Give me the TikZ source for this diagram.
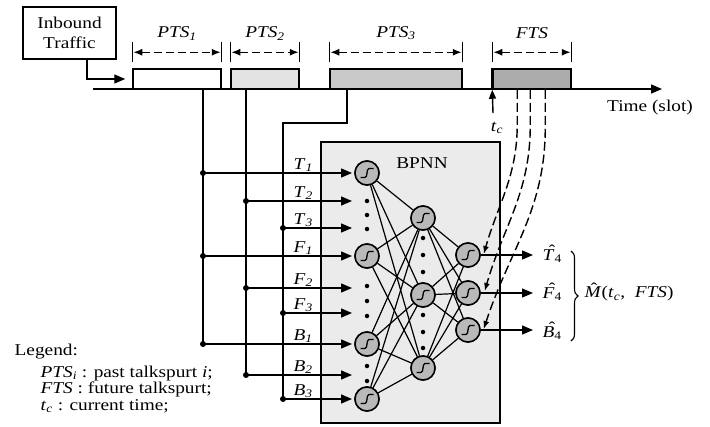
\documentclass[tikz,border=0pt]{standalone}
\usepackage{fontspec}
\setmainfont{Liberation Serif}[FakeStretch=1.17]
\usetikzlibrary{arrows.meta,decorations.pathreplacing,calc}
\newcommand{\iv}[2]{\textit{#1}\textsubscript{\textit{#2}}}
\newcommand{\hv}[2]{\ooalign{\textit{#1}\cr\hidewidth\kern7pt\raisebox{0.5ex}{\symbol{"02C6}}\hidewidth\cr}\textsubscript{#2}}
\newcommand{\Mhat}{\ooalign{\textit{M}\cr\hidewidth\kern2pt\raisebox{0.45ex}{\symbol{"02C6}}\hidewidth\cr}}
\tikzset{
  neuron/.style={circle,draw,line width=1.5pt,fill=gray!55,minimum size=24pt,inner sep=0pt,
    path picture={\draw[line width=1.3pt]
      ($(path picture bounding box.center)+(-6.5pt,-4.5pt)$) -- ($(path picture bounding box.center)+(-2pt,-4.5pt)$)
      .. controls ($(path picture bounding box.center)+(1pt,-4.5pt)$) and ($(path picture bounding box.center)+(-1pt,4.5pt)$) ..
      ($(path picture bounding box.center)+(2pt,4.5pt)$) -- ($(path picture bounding box.center)+(6.5pt,4.5pt)$);}},
  ldot/.style={circle,fill,inner sep=0pt,minimum size=4.5pt},
  jdot/.style={circle,fill,inner sep=0pt,minimum size=6pt},
  arr/.style={-{Triangle[length=11pt,width=9pt]}},
  dimarr/.style={dash pattern=on 8pt off 4pt,{Latex[length=9pt,width=7pt]}-{Latex[length=9pt,width=7pt]}},
  slot/.style={draw,line width=1.5pt,minimum height=20pt,inner sep=0pt},
  lab/.style={inner sep=0pt},
  fdash/.style={dash pattern=on 9pt off 4pt,line width=1.4pt,-{Latex[length=8pt,width=6pt]}}
}
\begin{document}
\begin{tikzpicture}[x=1pt,y=-1pt,line width=1.4pt,font=\fontsize{16.5}{20}\selectfont]
\useasboundingbox (0,0) rectangle (710,426);

% inbound traffic
\node[draw,line width=1.5pt,minimum width=93pt,minimum height=52pt,align=center,inner sep=0pt] (inb) at (69.5,33) {Inbound\\Traffic};

% slots on the time line
\node[slot,minimum width=88pt] (p1) at (177,79) {};
\node[slot,minimum width=68pt,fill=gray!22] (p2) at (265,79) {};
\node[slot,minimum width=132pt,fill=gray!42] (p3) at (396,79) {};
\node[slot,minimum width=78pt,fill=gray!65] (fs) at (532,79) {};
\draw[line width=2.4pt] (fs.south west) -- (fs.north west);

\coordinate (ts) at (93,89);
\coordinate (te) at (662,89);
\draw[arr] (ts) -- (te);
\draw[arr] ($(inb.south)+(17.5,0)$) |- ($(p1.west)+(-7,0)$);

\node[lab] at (650,108) {Time (slot)};

% dimension lines
\foreach \b/\t in {p1/{\iv{PTS}{1}},p2/{\iv{PTS}{2}},p3/{\iv{PTS}{3}},fs/{\textit{FTS}}}{
  \draw ($(\b.north west)+(0,-26)$) -- ($(\b.north west)+(0,-6)$);
  \draw ($(\b.north east)+(0,-26)$) -- ($(\b.north east)+(0,-6)$);
  \draw[dimarr] ($(\b.north west)+(1,-16)$) -- ($(\b.north east)+(-1,-16)$);
  \node[lab] at ($(\b.north)+(0,-35)$) {\t};
}

% BPNN box
\node[draw,line width=1.5pt,fill=gray!16,minimum width=179pt,minimum height=281pt,inner sep=0pt] (bp) at (410.5,282.5) {};
\node[lab] at (422,163) {BPNN};

% signal lines from past talkspurts
\coordinate (s1) at (203,89);
\coordinate (s2) at (246,89);
\coordinate (s3) at (347,89);
\coordinate (k3) at (347,123);
\coordinate (k4) at (283,123);

\foreach \n/\x/\y in {T1/203/173,T2/246/201,T3/283/228,F1/203/256,F2/246/288,F3/283/313,B1/203/344,B2/246/375,B3/283/399}{
  \node[jdot] (j\n) at (\x,\y) {};
  \coordinate (e\n) at (352,\y);
}
\draw (s1) -- (jB1.center);
\draw (s2) -- (jB2.center);
\draw (s3) -- (k3) -- (k4) -- (jB3.center);

\foreach \n/\a/\b in {T1/T/1,T2/T/2,T3/T/3,F1/F/1,F2/F/2,F3/F/3,B1/B/1,B2/B/2,B3/B/3}{
  \draw[arr] (j\n.center) -- (e\n);
  \node[lab,anchor=base west] at ($(j\n -| 293,0)+(0,-4)$) {\iv{\a}{\b}};
}

% neurons
\node[neuron] (iT) at (367,173) {};
\node[neuron] (iF) at (367,256) {};
\node[neuron] (iB) at (367,344) {};
\node[neuron] (iZ) at (367,399) {};
\node[neuron] (h1) at (423,218) {};
\node[neuron] (h2) at (423,295) {};
\node[neuron] (h3) at (423,368) {};
\node[neuron] (o1) at (468,255) {};
\node[neuron] (o2) at (468,293) {};
\node[neuron] (o3) at (468,330) {};

\foreach \i in {iT,iF,iB,iZ}{
  \foreach \h in {h1,h2,h3}{
    \draw[line width=1.2pt] (\i) -- (\h);
  }
}
\foreach \h in {h1,h2,h3}{
  \foreach \o in {o1,o2,o3}{
    \draw[line width=1.2pt] (\h) -- (\o);
  }
}
% redraw neurons on top of the links
\foreach \x/\y in {367/173,367/256,367/344,367/399,423/218,423/295,423/368,468/255,468/293,468/330}{
  \node[neuron] at (\x,\y) {};
}

% layer dots
\foreach \y in {201,215,229,286,301,316,366,381}{ \node[ldot] (dI\y) at (367,\y) {}; }
\foreach \y in {238,255,272,315,332,348}{ \node[ldot] (dH\y) at (423,\y) {}; }

% outputs
\coordinate (q1) at (533,255);
\coordinate (q2) at (533,293);
\coordinate (q3) at (533,330);
\draw[arr] (o1.east) -- (q1);
\draw[arr] (o2.east) -- (q2);
\draw[arr] (o3.east) -- (q3);
\node[lab,anchor=west] at (542,256) {\hv{T}{4}};
\node[lab,anchor=west] at (542,294) {\hv{F}{4}};
\node[lab,anchor=west] at (542,333) {\hv{B}{4}};

\coordinate (br1) at (571,251);
\coordinate (br2) at (571,341);
\draw[line width=1.1pt,decorate,decoration={brace,amplitude=7pt}] (br1) -- (br2);
\node[lab,anchor=west] at (584,294) {\Mhat(\textit{t}\textsubscript{\textit{c}},\ \ \textit{FTS})};

% future talkspurt feedback (dashed)
\coordinate (d1) at ($(fs.south west)+(25,0)$);
\coordinate (d2) at ($(fs.south west)+(38,0)$);
\coordinate (d3) at ($(fs.south west)+(53,0)$);
\draw[fdash] (d1) -- ++(0,34) to[out=-90,in=74] ($(o1.east)+(3,-1)$);
\draw[fdash] (d2) -- ++(0,36) to[out=-90,in=74] ($(o2.east)+(4,-2)$);
\draw[fdash] (d3) -- ++(0,38) to[out=-90,in=72] ($(o3.east)+(3,-1)$);

% current time
\coordinate (tc) at (493,113);
\draw[-{Triangle[length=9pt,width=7pt]}] (tc) -- (fs.south west);
\node[lab] at (497,128) {\iv{t}{c}};

% legend
\node[lab,anchor=base west] at (14,355) {Legend:};
\node[lab,anchor=base west] at (40,377) {\iv{PTS}{i} : past talkspurt \textit{i};};
\node[lab,anchor=base west] at (40,393.5) {\textit{FTS} : future talkspurt;};
\node[lab,anchor=base west] at (40,410) {\iv{t}{c} : current time;};
\end{tikzpicture}
\end{document}
